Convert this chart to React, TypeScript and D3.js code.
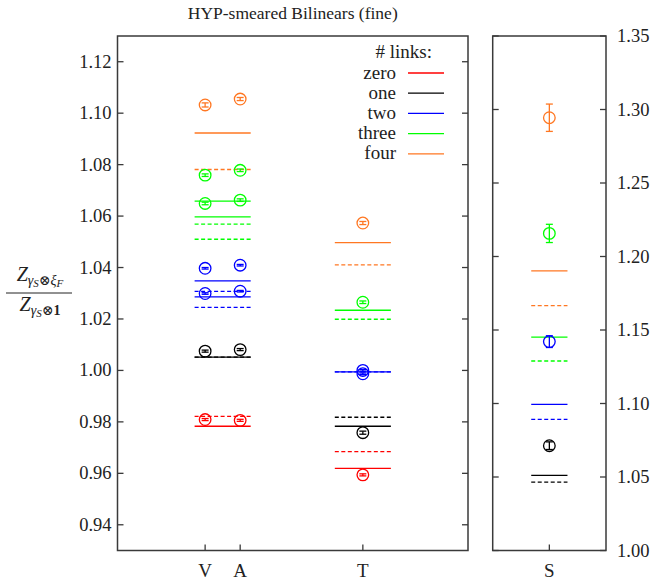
import React from "react";
import * as d3 from "d3";

// Link-count series: names and colours used for points, lines and legend
const LINK_NAMES = ["zero", "one", "two", "three", "four"];
const LINK_COLORS = ["#ff0000", "#000000", "#0000ff", "#00ff00", "#ff7722"];

// Channel tick labels and their x positions in each panel
const LEFT_CHANNELS = ["V", "A", "T"];
const LEFT_CHANNEL_POS = [2.5, 3.5, 7];
const RIGHT_CHANNELS = ["S"];
const RIGHT_CHANNEL_POS = [0.5];

// Axis ticks
const LEFT_TICKS = [0.94, 0.96, 0.98, 1.0, 1.02, 1.04, 1.06, 1.08, 1.1, 1.12];
const RIGHT_TICKS = [1.0, 1.05, 1.1, 1.15, 1.2, 1.25, 1.3, 1.35];

// Measured ratios: [links, value, error]
const V_POINTS: [number, number, number][] = [
  [4, 1.1032, 0.0008],
  [3, 1.0759, 0.0005],
  [3, 1.0649, 0.0005],
  [2, 1.0397, 0.0003],
  [2, 1.0299, 0.0003],
  [1, 1.0075, 0.0004],
  [0, 0.9809, 0.0004],
];
const A_POINTS: [number, number, number][] = [
  [4, 1.1055, 0.0006],
  [3, 1.0778, 0.0005],
  [3, 1.0662, 0.0005],
  [2, 1.0409, 0.0003],
  [2, 1.0308, 0.0003],
  [1, 1.0081, 0.0004],
  [0, 0.9806, 0.0004],
];
const T_POINTS: [number, number, number][] = [
  [4, 1.0573, 0.0006],
  [3, 1.0265, 0.0005],
  [2, 1.0, 0.0003],
  [2, 0.9987, 0.0003],
  [1, 0.9758, 0.0006],
  [0, 0.9594, 0.0004],
];
const S_POINTS: [number, number, number][] = [
  [4, 1.2944, 0.0093],
  [3, 1.2157, 0.0062],
  [2, 1.1421, 0.004],
  [1, 1.0713, 0.0026],
];

// Perturbative estimates: [links, value, dashed]
const VA_LINES: [number, number, boolean][] = [
  [4, 1.0923, false],
  [4, 1.0781, true],
  [3, 1.0658, false],
  [3, 1.0597, false],
  [3, 1.0569, true],
  [3, 1.051, true],
  [2, 1.0348, false],
  [2, 1.0307, true],
  [2, 1.0286, false],
  [2, 1.0245, true],
  [1, 1.0052, false],
  [1, 1.0052, true],
  [0, 0.9821, true],
  [0, 0.9783, false],
];
const T_LINES: [number, number, boolean][] = [
  [4, 1.0497, false],
  [4, 1.041, true],
  [3, 1.0234, false],
  [3, 1.0199, true],
  [2, 0.9994, false],
  [2, 0.9994, true],
  [1, 0.9818, true],
  [1, 0.9783, false],
  [0, 0.9684, true],
  [0, 0.9619, false],
];
const S_LINES: [number, number, boolean][] = [
  [4, 1.1902, false],
  [4, 1.1666, true],
  [3, 1.1451, false],
  [3, 1.1289, true],
  [2, 1.0994, false],
  [2, 1.0892, true],
  [1, 1.0511, false],
  [1, 1.0465, true],
];

const FONT = "Liberation Serif, DejaVu Serif, serif";
const FRAME = "#3a3a3a";
const TICK = 6;
const R = 5.8;

const top = 36;
const bottom = 550.5;
const leftX = d3.scaleLinear().domain([0, 10]).range([117.5, 468]);
const leftY = d3.scaleLinear().domain([0.93, 1.13]).range([bottom, top]);
const rightX = d3.scaleLinear().domain([0, 1]).range([492.7, 606]);
const rightY = d3.scaleLinear().domain([1.0, 1.35]).range([bottom, top]);

type Scale = d3.ScaleLinear<number, number>;

function Points({
  pts,
  cx,
  y,
  cap,
}: {
  pts: [number, number, number][];
  cx: number;
  y: Scale;
  cap: number;
}) {
  return (
    <g>
      {pts.map(([l, v, e], i) => {
        const c = LINK_COLORS[l];
        const y0 = y(v);
        const y1 = y(v + e);
        const y2 = y(v - e);
        return (
          <g key={i} stroke={c} fill="none" strokeWidth={1.3}>
            <circle cx={cx} cy={y0} r={R} />
            <line x1={cx} x2={cx} y1={y1} y2={y2} />
            <line x1={cx - cap} x2={cx + cap} y1={y1} y2={y1} />
            <line x1={cx - cap} x2={cx + cap} y1={y2} y2={y2} />
          </g>
        );
      })}
    </g>
  );
}

function Lines({
  lines,
  x1,
  x2,
  y,
}: {
  lines: [number, number, boolean][];
  x1: number;
  x2: number;
  y: Scale;
}) {
  return (
    <g>
      {lines.map(([l, v, dashed], i) => (
        <line
          key={i}
          x1={x1}
          x2={x2}
          y1={y(v)}
          y2={y(v)}
          stroke={LINK_COLORS[l]}
          strokeWidth={1.3}
          strokeDasharray={dashed ? "4,2.5" : undefined}
        />
      ))}
    </g>
  );
}

export default function App() {
  const [lx0, lx1] = leftX.range();
  const [rx0, rx1] = rightX.range();
  const legendRows = LINK_NAMES.map((n, i) => ({ n, c: LINK_COLORS[i], y: 73 + i * 20.2 }));

  return (
    <svg
      width={654}
      height={580}
      style={{ position: "absolute", left: 0, top: 0, background: "#fff", fontFamily: FONT }}
    >
      <text x={(lx0 + lx1) / 2} y={19} textAnchor="middle" fontSize={17.5} fill="#222">
        HYP-smeared Bilinears (fine)
      </text>

      {/* y-axis label: ratio of renormalisation constants */}
      <g fill="#222">
        <text x={40} y={281} textAnchor="middle" fontSize={20} fontStyle="italic">
          Z
          <tspan fontSize={14} dy={4}>γ</tspan>
          <tspan fontSize={11} dy={2}>S</tspan>
          <tspan fontSize={14} dy={-2} fontStyle="normal">⊗</tspan>
          <tspan fontSize={14}>ξ</tspan>
          <tspan fontSize={11} dy={2}>F</tspan>
        </text>
        <line x1={6} x2={72} y1={293} y2={293} stroke="#222" strokeWidth={1} />
        <text x={40} y={311} textAnchor="middle" fontSize={20} fontStyle="italic">
          Z
          <tspan fontSize={14} dy={4}>γ</tspan>
          <tspan fontSize={11} dy={2}>S</tspan>
          <tspan fontSize={14} dy={-2} fontStyle="normal">⊗</tspan>
          <tspan fontSize={14} fontStyle="normal" fontWeight="bold">1</tspan>
        </text>
      </g>

      {/* left panel */}
      <g>
        <rect x={lx0} y={top} width={lx1 - lx0} height={bottom - top} fill="none" stroke={FRAME} strokeWidth={1.5} />
        {LEFT_TICKS.map((t) => (
          <g key={t}>
            <line x1={lx0} x2={lx0 + TICK} y1={leftY(t)} y2={leftY(t)} stroke={FRAME} strokeWidth={1.3} />
            <line x1={lx1} x2={lx1 - TICK} y1={leftY(t)} y2={leftY(t)} stroke={FRAME} strokeWidth={1.3} />
            <text x={lx0 - 6} y={leftY(t) + 6} textAnchor="end" fontSize={18.5} fill="#222">
              {t.toFixed(2)}
            </text>
          </g>
        ))}
        {LEFT_CHANNELS.map((c, i) => (
          <g key={c}>
            <line
              x1={leftX(LEFT_CHANNEL_POS[i])}
              x2={leftX(LEFT_CHANNEL_POS[i])}
              y1={bottom}
              y2={bottom - TICK}
              stroke={FRAME}
              strokeWidth={1.3}
            />
            <text x={leftX(LEFT_CHANNEL_POS[i])} y={577} textAnchor="middle" fontSize={19} fill="#222">
              {c}
            </text>
          </g>
        ))}

        <Lines lines={VA_LINES} x1={leftX(2.2)} x2={leftX(3.8)} y={leftY} />
        <Lines lines={T_LINES} x1={leftX(6.2)} x2={leftX(7.8)} y={leftY} />
        <Points pts={V_POINTS} cx={leftX(LEFT_CHANNEL_POS[0])} y={leftY} cap={3.5} />
        <Points pts={A_POINTS} cx={leftX(LEFT_CHANNEL_POS[1])} y={leftY} cap={3.5} />
        <Points pts={T_POINTS} cx={leftX(LEFT_CHANNEL_POS[2])} y={leftY} cap={3.5} />

        {/* legend */}
        <text x={432} y={58} textAnchor="end" fontSize={19} fill="#222">
          # links:
        </text>
        {legendRows.map((r) => (
          <g key={r.n}>
            <text x={396} y={r.y + 5.5} textAnchor="end" fontSize={19} fill="#222">
              {r.n}
            </text>
            <line x1={408} x2={444} y1={r.y} y2={r.y} stroke={r.c} strokeWidth={1.3} />
          </g>
        ))}
      </g>

      {/* right panel */}
      <g>
        <rect x={rx0} y={top} width={rx1 - rx0} height={bottom - top} fill="none" stroke={FRAME} strokeWidth={1.5} />
        {RIGHT_TICKS.map((t) => (
          <g key={t}>
            <line x1={rx0} x2={rx0 + TICK} y1={rightY(t)} y2={rightY(t)} stroke={FRAME} strokeWidth={1.3} />
            <line x1={rx1} x2={rx1 - TICK} y1={rightY(t)} y2={rightY(t)} stroke={FRAME} strokeWidth={1.3} />
            <text x={rx1 + 11} y={rightY(t) + 6} textAnchor="start" fontSize={18.5} fill="#222">
              {t.toFixed(2)}
            </text>
          </g>
        ))}
        {RIGHT_CHANNELS.map((c, i) => (
          <g key={c}>
            <line
              x1={rightX(RIGHT_CHANNEL_POS[i])}
              x2={rightX(RIGHT_CHANNEL_POS[i])}
              y1={bottom}
              y2={bottom - TICK}
              stroke={FRAME}
              strokeWidth={1.3}
            />
            <text x={rightX(RIGHT_CHANNEL_POS[i])} y={577} textAnchor="middle" fontSize={19} fill="#222">
              {c}
            </text>
          </g>
        ))}
        <Lines lines={S_LINES} x1={rightX(0.34)} x2={rightX(0.66)} y={rightY} />
        <Points pts={S_POINTS} cx={rightX(RIGHT_CHANNEL_POS[0])} y={rightY} cap={3.5} />
      </g>
    </svg>
  );
}
